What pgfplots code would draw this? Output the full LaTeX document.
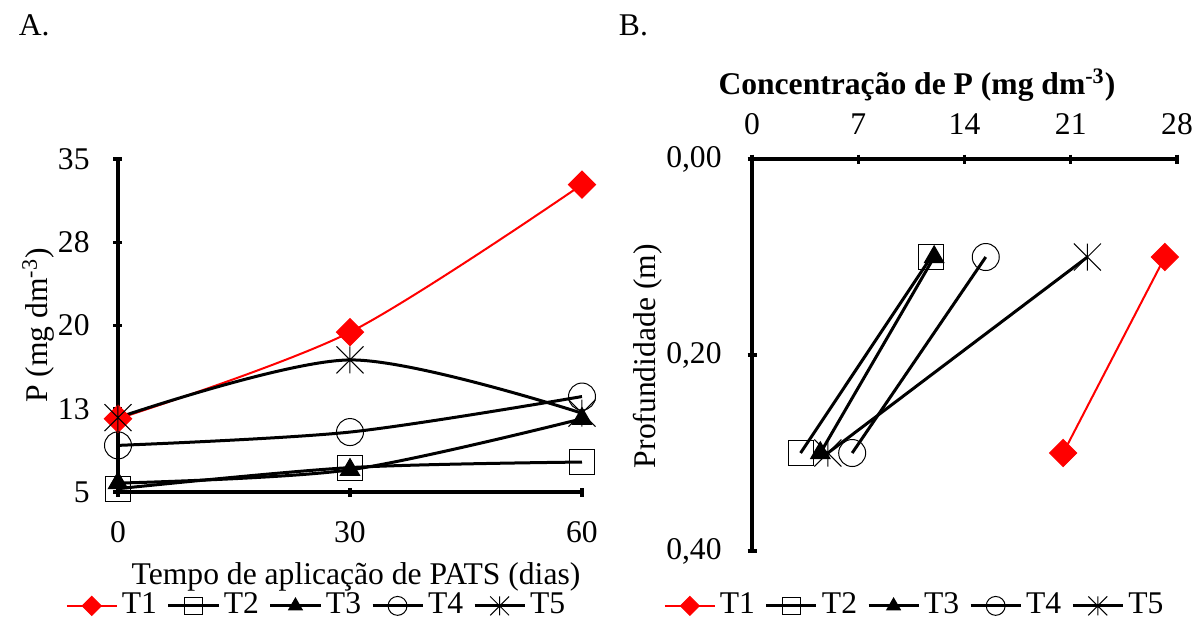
\documentclass[border=0pt]{standalone}
\usepackage{pgfplots}
\pgfplotsset{compat=1.18}
\usepackage{fontspec}
\setmainfont{Liberation Serif}
\pgfdeclareplotmark{xstar}{%
  \pgfpathmoveto{\pgfqpoint{0pt}{\pgfplotmarksize}}%
  \pgfpathlineto{\pgfqpoint{0pt}{-\pgfplotmarksize}}%
  \pgfpathmoveto{\pgfqpoint{-\pgfplotmarksize}{\pgfplotmarksize}}%
  \pgfpathlineto{\pgfqpoint{\pgfplotmarksize}{-\pgfplotmarksize}}%
  \pgfpathmoveto{\pgfqpoint{-\pgfplotmarksize}{-\pgfplotmarksize}}%
  \pgfpathlineto{\pgfqpoint{\pgfplotmarksize}{\pgfplotmarksize}}%
  \pgfusepathqstroke}
\pgfplotsset{
  base/.style={
    scale only axis, clip=false, axis on top,
    tick style={line width=1.6pt, black},
    major tick length=4.5pt,
    tick align=outside,
    /pgf/number format/assume math mode=true,
    legend columns=5,
    legend cell align=left,
    legend style={draw=none, fill=none, anchor=center, inner sep=0pt,
       /tikz/every even column/.append style={column sep=3pt}},
    legend image code/.code={\draw[mark repeat=2,mark phase=2,##1,every mark/.append style={scale=0.7}] plot coordinates {(0pt,0pt)(12.5pt,0pt)(25pt,0pt)};},
  },
  nolinearrows/.style={
    axis line style={-, line width=2pt},
    x axis line style={-}, y axis line style={-},
    every outer x axis line/.append style={-},
    every outer y axis line/.append style={-},
  },
  s1/.style={red, line width=1pt, mark=square*, mark size=4.8pt, mark options={rotate=45, solid, fill=red, line width=0.5pt}},
  s2/.style={black, line width=1.5pt, mark=square, mark size=6.25pt, mark options={solid, line width=0.5pt}},
  s3/.style={black, line width=1.5pt, mark=triangle*, mark size=5.6pt, mark options={solid, fill=black, line width=0.5pt}},
  s4/.style={black, line width=1.5pt, mark=o, mark size=6.75pt, mark options={solid, line width=0.5pt}},
  s5/.style={black, line width=1.5pt, mark=xstar, mark size=6.75pt, mark options={solid, line width=0.5pt}},
}
\begin{document}
\fontsize{15.8}{19}\selectfont
\begin{tikzpicture}
\useasboundingbox (0,0) rectangle (598.5pt,309pt);
\node[anchor=west] at (4pt,296.5pt) {A.};
\node[anchor=west] at (304pt,296.5pt) {B.};
\begin{axis}[base, at={(59pt,63pt)}, anchor=south west, width=232pt, height=166.5pt,
  xmin=0, xmax=60, ymin=5, ymax=35,
  axis x line=bottom, axis y line=left, nolinearrows,
  xtick={0,30,60}, ytick={5,12.5,20,27.5,35}, yticklabels={5,13,20,28,35},
  xticklabel style={yshift=-7pt},
  yticklabel style={xshift=-6.5pt},
  xlabel={Tempo de aplicação de PATS (dias)},
  ylabel={P (mg dm\textsuperscript{-3})},
  xlabel style={at={(axis description cs:0.513,-0.255)}, anchor=center},
  ylabel style={at={(axis description cs:-0.172,0.5)}, anchor=center},
  legend style={at={(0.43,-0.342)}},
]
\addplot[s1, smooth] coordinates {(0,11.6) (30,19.4) (60,32.7)};
\addplot[s2, smooth] coordinates {(0,5.3) (30,7.2) (60,7.7)};
\addplot[s3, smooth] coordinates {(0,5.8) (30,7.0) (60,11.6)};
\addplot[s4, smooth] coordinates {(0,9.2) (30,10.4) (60,13.6)};
\addplot[s5, smooth] coordinates {(0,11.7) (30,16.9) (60,12.1)};
\legend{T1,T2,T3,T4,T5}
\end{axis}
\begin{axis}[base, at={(376pt,33.5pt)}, anchor=south west, width=212.5pt, height=196pt,
  xmin=0, xmax=28, ymin=0, ymax=0.4, y dir=reverse,
  axis x line=top, axis y line=left, nolinearrows,
  xtick={0,7,14,21,28}, ytick={0,0.2,0.4}, yticklabels={{0,00},{0,20},{0,40}},
  xticklabel style={yshift=4.5pt},
  yticklabel style={xshift=-7.5pt},
  xlabel={\bfseries Concentração de P (mg dm\textsuperscript{-3})},
  xlabel style={at={(axis description cs:0.388,1.188)}, anchor=center},
  ylabel={Profundidade (m)},
  ylabel style={at={(axis description cs:-0.245,0.497)}, anchor=center},
  legend style={at={(0.385,-0.14)}},
]
\addplot[s1] coordinates {(27.2,0.10) (20.5,0.30)};
\addplot[s2] coordinates {(11.8,0.10) (3.2,0.30)};
\addplot[s3] coordinates {(12.0,0.10) (4.5,0.30)};
\addplot[s4] coordinates {(15.4,0.10) (6.6,0.30)};
\addplot[s5] coordinates {(22.1,0.10) (5.0,0.30)};
\legend{T1,T2,T3,T4,T5}
\end{axis}
\end{tikzpicture}
\end{document}
